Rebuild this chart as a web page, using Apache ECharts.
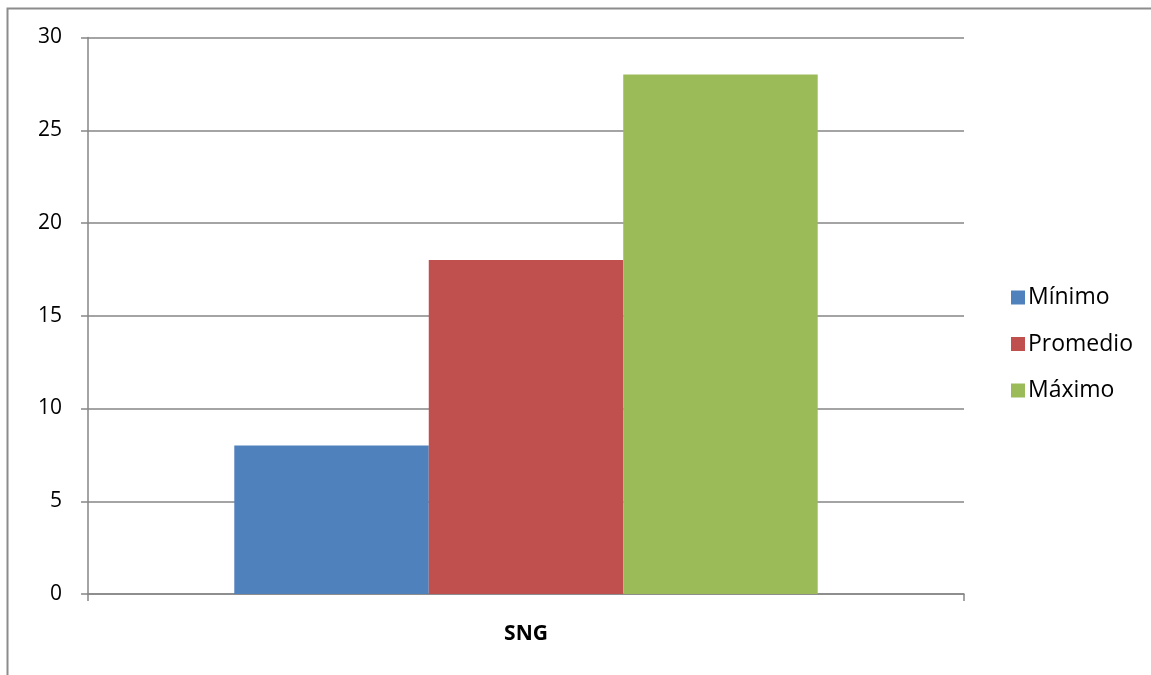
<!DOCTYPE html>
<html>
<head>
<meta charset="utf-8">
<script src="https://cdn.jsdelivr.net/npm/echarts@6/dist/echarts.min.js"></script>
<style>
  html, body { margin: 0; padding: 0; background: #fff; }
  #chart { width: 1151px; height: 675px; }
</style>
</head>
<body>
<div id="chart"></div>
<script>
// Categories and series values
const categories = ['SNG'];
const minimo = [8];
const promedio = [18];
const maximo = [28];
const seriesNames = ['Mínimo', 'Promedio', 'Máximo'];
const seriesColors = ['#4f81bd', '#c0504d', '#9bbb59'];

const fontFamily = '"Open Sans", "Noto Sans", sans-serif';
const axisGray = '#868686';

const chart = echarts.init(document.getElementById('chart'));
chart.setOption({
  animation: false,
  backgroundColor: '#fff',
  graphic: [{
    type: 'rect',
    shape: { x: 7.5, y: 8.5, width: 1300, height: 800 },
    style: { fill: 'none', stroke: '#8c8c8c', lineWidth: 2 },
    silent: true
  }],
  legend: {
    orient: 'vertical',
    left: 1006,
    top: 281,
    itemWidth: 14,
    itemHeight: 14,
    itemGap: 23.5,
    icon: 'rect',
    textStyle: { fontFamily, fontSize: 23, lineHeight: 23, color: '#000', padding: [0, 0, 0, -2] },
    data: seriesNames
  },
  grid: { left: 88, right: 187, top: 37.5, bottom: 81 },
  xAxis: {
    type: 'category',
    data: categories,
    axisLine: { lineStyle: { color: axisGray, width: 1.5 } },
    axisTick: { show: true, length: 7, lineStyle: { color: axisGray, width: 1.5 } },
    axisLabel: { fontFamily, fontSize: 21, fontWeight: 'bold', color: '#000', margin: 30 }
  },
  yAxis: {
    type: 'value',
    min: 0,
    max: 30,
    interval: 5,
    axisLine: { show: true, lineStyle: { color: axisGray, width: 1.5 } },
    axisTick: { show: true, length: 7, lineStyle: { color: axisGray, width: 1.5 } },
    axisLabel: { fontFamily, fontSize: 21, color: '#000', margin: 26 },
    splitLine: { lineStyle: { color: axisGray, width: 1.5 } }
  },
  series: [
    { name: seriesNames[0], type: 'bar', data: minimo, itemStyle: { color: seriesColors[0] }, barGap: '0%', barCategoryGap: '33.4%' },
    { name: seriesNames[1], type: 'bar', data: promedio, itemStyle: { color: seriesColors[1] }, barGap: '0%', barCategoryGap: '33.4%' },
    { name: seriesNames[2], type: 'bar', data: maximo, itemStyle: { color: seriesColors[2] }, barGap: '0%', barCategoryGap: '33.4%' }
  ]
});
</script>
</body>
</html>
